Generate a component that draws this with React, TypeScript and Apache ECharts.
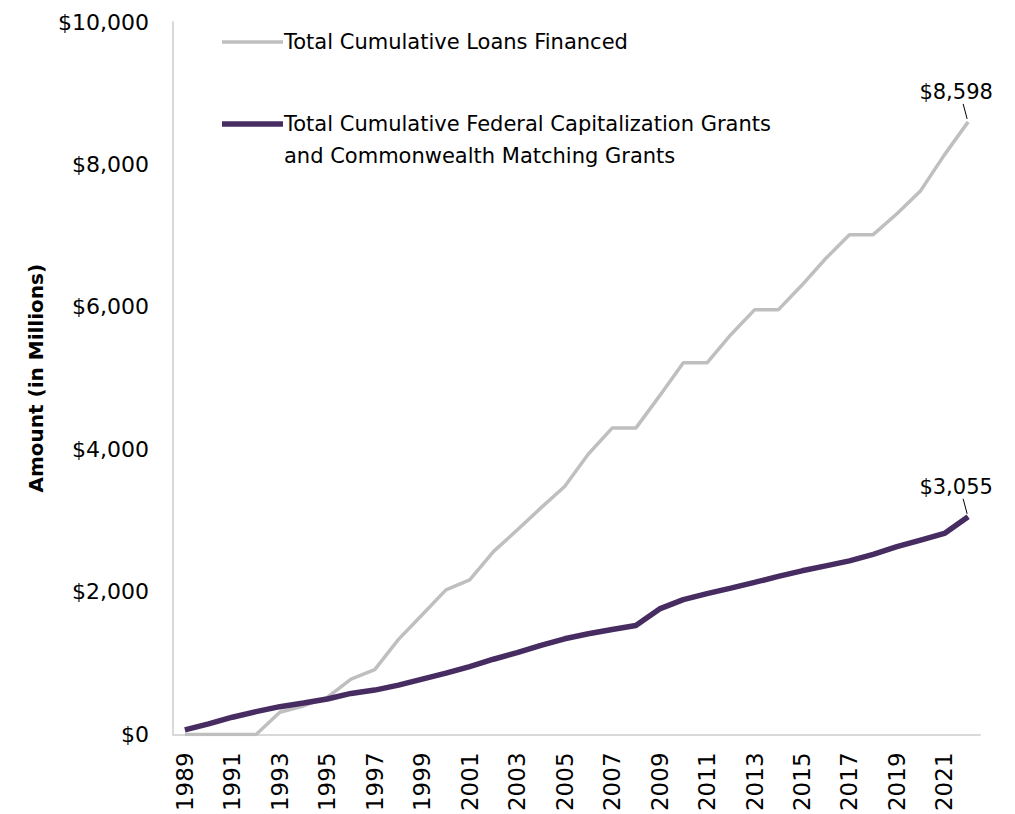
import React, { useEffect, useRef } from "react";
import * as echarts from "echarts";

const years: string[] = [
  "1989", "1990", "1991", "1992", "1993", "1994", "1995", "1996", "1997", "1998",
  "1999", "2000", "2001", "2002", "2003", "2004", "2005", "2006", "2007", "2008",
  "2009", "2010", "2011", "2012", "2013", "2014", "2015", "2016", "2017", "2018",
  "2019", "2020", "2021", "2022",
];

const loansFinanced: number[] = [
  0, 0, 0, 0, 311, 400, 520, 777, 910, 1335,
  1680, 2030, 2170, 2566, 2869, 3180, 3480, 3937, 4300, 4300,
  4752, 5216, 5216, 5611, 5960, 5960, 6308, 6680, 7015, 7015,
  7308, 7633, 8135, 8598,
];

const grants: number[] = [
  65, 149, 242, 321, 390, 442, 498, 576, 623, 693,
  777, 860, 953, 1056, 1148, 1251, 1343, 1413, 1474, 1530,
  1762, 1892, 1976, 2054, 2134, 2218, 2297, 2367, 2437, 2529,
  2636, 2729, 2822, 3055,
];

const seriesNames: string[] = [
  "Total Cumulative Loans Financed",
  "Total Cumulative Federal Capitalization Grants\nand Commonwealth Matching Grants",
];

const yAxisTitle = "Amount (in Millions)";

const FONT = "'DejaVu Sans', sans-serif";
const GREY = "#bfbfbf";
const PURPLE = "#472c62";

const fmt = (v: number) => "$" + v.toLocaleString("en-US");

export default function App() {
  const ref = useRef<HTMLDivElement>(null);

  useEffect(() => {
    document.body.style.margin = "0";
    if (!ref.current) return;
    const chart = echarts.init(ref.current, undefined, { renderer: "svg" });
    const option: any = {
      animation: false,
      backgroundColor: "#ffffff",
      grid: { left: 173, right: 35, top: 22, bottom: 75 },
      xAxis: {
        type: "category",
        data: years,
        boundaryGap: true,
        axisLine: { show: true, lineStyle: { color: "#d9d9d9", width: 2 } },
        axisTick: { show: false },
        axisLabel: {
          interval: 1,
          rotate: 90,
          margin: 18,
          fontSize: 23,
          fontFamily: FONT,
          color: "#000",
        },
      },
      yAxis: {
        type: "value",
        min: 0,
        max: 10000,
        interval: 2000,
        name: yAxisTitle,
        nameLocation: "middle",
        nameGap: 127,
        nameRotate: 90,
        nameTextStyle: {
          fontSize: 20,
          fontWeight: "bold",
          fontFamily: FONT,
          color: "#000",
        },
        axisLine: { show: true, lineStyle: { color: "#d9d9d9", width: 2 } },
        axisTick: { show: false },
        splitLine: { show: false },
        axisLabel: {
          margin: 24,
          fontSize: 22,
          fontFamily: FONT,
          color: "#000",
          formatter: (v: number) => fmt(v),
        },
      },
      series: [
        {
          name: seriesNames[0],
          type: "line",
          data: loansFinanced,
          showSymbol: false,
          lineStyle: { color: GREY, width: 3.5 },
          itemStyle: { color: GREY },
          z: 2,
        },
        {
          name: seriesNames[1],
          type: "line",
          data: grants,
          showSymbol: false,
          lineStyle: { color: PURPLE, width: 5.5 },
          itemStyle: { color: PURPLE },
          z: 3,
        },
      ],
      graphic: [
        {
          type: "line",
          shape: { x1: 222, y1: 42, x2: 283, y2: 42 },
          style: { stroke: GREY, lineWidth: 3.5 },
        },
        {
          type: "text",
          x: 284,
          y: 42,
          style: {
            text: seriesNames[0],
            fontSize: 21,
            fontFamily: FONT,
            fill: "#000",
            verticalAlign: "middle",
            align: "left",
          },
        },
        {
          type: "line",
          shape: { x1: 222, y1: 124, x2: 283, y2: 124 },
          style: { stroke: PURPLE, lineWidth: 5.5 },
        },
        {
          type: "text",
          x: 284,
          y: 108,
          style: {
            text: seriesNames[1],
            fontSize: 21,
            lineHeight: 32,
            fontFamily: FONT,
            fill: "#000",
            verticalAlign: "top",
            align: "left",
          },
        },
      ],
    };
    chart.setOption(option);

    const last = years.length - 1;
    const ends = [loansFinanced[last], grants[last]];
    const extra: any[] = [];
    ends.forEach((v) => {
      const p = chart.convertToPixel({ gridIndex: 0 }, [last, v]) as number[];
      extra.push({
        type: "line",
        shape: { x1: p[0] - 1, y1: p[1] - 3, x2: p[0] - 5, y2: p[1] - 18 },
        style: { stroke: "#000", lineWidth: 1 },
      });
      extra.push({
        type: "text",
        x: p[0] - 12,
        y: p[1] - 19,
        style: {
          text: fmt(v),
          fontSize: 21,
          fontFamily: FONT,
          fill: "#000",
          align: "center",
          verticalAlign: "bottom",
        },
      });
    });
    chart.setOption({ graphic: [...option.graphic, ...extra] });

    return () => chart.dispose();
  }, []);

  return <div ref={ref} style={{ width: 1015, height: 814 }} />;
}
